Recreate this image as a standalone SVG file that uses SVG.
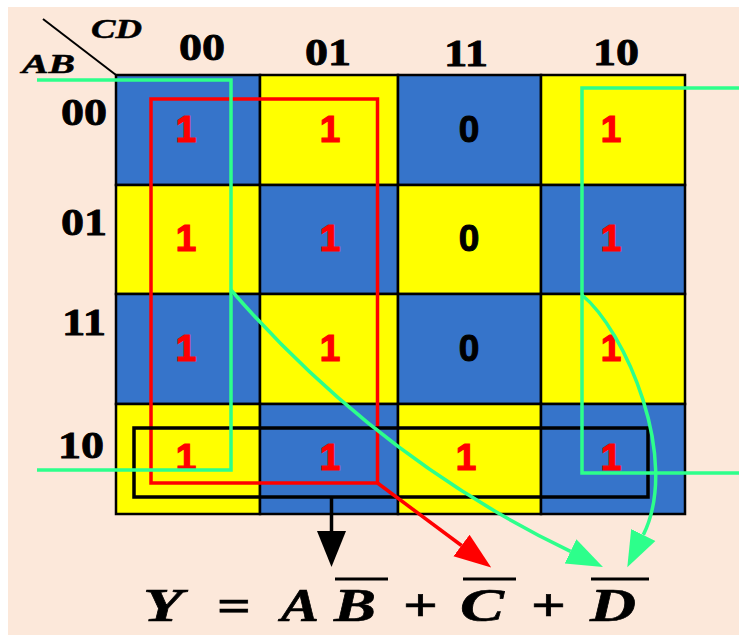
<svg xmlns="http://www.w3.org/2000/svg" width="739" height="635" viewBox="0 0 739 635">
<style>
.bg{fill:#FCE8DA}
.b{fill:#3674CA;stroke:#000;stroke-width:2.5}
.y{fill:#FFFF00;stroke:#000;stroke-width:2.5}
.one{font-family:"Liberation Sans",Arial,sans-serif;font-weight:bold;font-size:37px;fill:#FF0000;stroke:#FF0000;stroke-width:1.2;text-anchor:middle}
.zero{font-family:"Liberation Sans",Arial,sans-serif;font-weight:bold;font-size:37px;fill:#000;stroke:#000;stroke-width:1;text-anchor:middle}
.lbl{font-family:"Liberation Serif","Times New Roman",serif;font-weight:bold;font-size:37px;fill:#000;stroke:#000;stroke-width:0.8;text-anchor:middle}
.var{font-family:"Liberation Serif","Times New Roman",serif;font-weight:bold;font-style:italic;font-size:28px;fill:#000;stroke:#000;stroke-width:0.5}
.eq{font-family:"Liberation Serif","Times New Roman",serif;font-weight:bold;font-style:italic;font-size:47px;fill:#000;stroke:#000;stroke-width:0.6}
.op{font-family:"Liberation Serif","Times New Roman",serif;font-weight:bold;font-size:47px;fill:#000;stroke:#000;stroke-width:0.6}
.grn{fill:none;stroke:#2DFF8B;stroke-width:3.5}
</style>
<defs>
<marker id="ahK" markerUnits="userSpaceOnUse" markerWidth="40" markerHeight="32" viewBox="0 -16 40 32" refX="0" refY="0" orient="auto"><path d="M0,-14.5 L36,0 L0,14.5 z" fill="#000"/></marker>
<marker id="ahR" markerUnits="userSpaceOnUse" markerWidth="40" markerHeight="32" viewBox="0 -16 40 32" refX="0" refY="0" orient="auto"><path d="M0,-13.5 L37,0 L0,13.5 z" fill="#FF0000"/></marker>
<marker id="ahG" markerUnits="userSpaceOnUse" markerWidth="40" markerHeight="32" viewBox="0 -16 40 32" refX="0" refY="0" orient="auto"><path d="M0,-13.5 L36,0 L0,13.5 z" fill="#2DFF8B"/></marker>
</defs>
<rect class="bg" x="8" y="7" width="731" height="628"/>

<g id="header">
<line x1="43" y1="19" x2="116" y2="75" stroke="#000" stroke-width="2"/>
<text class="var" x="91" y="38" textLength="51" lengthAdjust="spacingAndGlyphs">CD</text>
<text class="var" x="22" y="73" textLength="53" lengthAdjust="spacingAndGlyphs">AB</text>
<text class="lbl" x="202" y="60" textLength="46" lengthAdjust="spacingAndGlyphs">00</text>
<text class="lbl" x="328" y="65" textLength="46" lengthAdjust="spacingAndGlyphs">01</text>
<text class="lbl" x="466" y="66" textLength="44" lengthAdjust="spacingAndGlyphs">11</text>
<text class="lbl" x="616" y="65" textLength="46" lengthAdjust="spacingAndGlyphs">10</text>
<text class="lbl" x="84" y="125" textLength="46" lengthAdjust="spacingAndGlyphs">00</text>
<text class="lbl" x="84" y="235" textLength="46" lengthAdjust="spacingAndGlyphs">01</text>
<text class="lbl" x="84" y="335" textLength="44" lengthAdjust="spacingAndGlyphs">11</text>
<text class="lbl" x="81" y="458" textLength="46" lengthAdjust="spacingAndGlyphs">10</text>
</g>

<g id="cells">
<rect class="b" x="116" y="75" width="144" height="110"/>
<rect class="y" x="260" y="75" width="138" height="110"/>
<rect class="b" x="398" y="75" width="143" height="110"/>
<rect class="y" x="541" y="75" width="144" height="110"/>
<rect class="y" x="116" y="185" width="144" height="109"/>
<rect class="b" x="260" y="185" width="138" height="109"/>
<rect class="y" x="398" y="185" width="143" height="109"/>
<rect class="b" x="541" y="185" width="144" height="109"/>
<rect class="b" x="116" y="294" width="144" height="110"/>
<rect class="y" x="260" y="294" width="138" height="110"/>
<rect class="b" x="398" y="294" width="143" height="110"/>
<rect class="y" x="541" y="294" width="144" height="110"/>
<rect class="y" x="116" y="404" width="144" height="110"/>
<rect class="b" x="260" y="404" width="138" height="110"/>
<rect class="y" x="398" y="404" width="143" height="110"/>
<rect class="b" x="541" y="404" width="144" height="110"/>

<text class="one" x="186" y="142">1</text>
<text class="one" x="330" y="142">1</text>
<text class="zero" x="469" y="142">0</text>
<text class="one" x="611" y="142">1</text>
<text class="one" x="186" y="251">1</text>
<text class="one" x="330" y="251">1</text>
<text class="zero" x="469" y="251">0</text>
<text class="one" x="611" y="251">1</text>
<text class="one" x="186" y="361">1</text>
<text class="one" x="330" y="361">1</text>
<text class="zero" x="469" y="361">0</text>
<text class="one" x="611" y="361">1</text>
<text class="one" x="186" y="470">1</text>
<text class="one" x="330" y="470">1</text>
<text class="one" x="466" y="470">1</text>
<text class="one" x="611" y="470">1</text>
</g>

<g id="groups">
<rect id="grp-red" x="151" y="99" width="226.5" height="384" fill="none" stroke="#FF0000" stroke-width="3.5"/>
<rect id="grp-black" x="134" y="428" width="514" height="69" fill="none" stroke="#000" stroke-width="3.5"/>
<path id="grp-green-left" class="grn" d="M37,80 H231 V470 H37"/>
<path id="grp-green-right" class="grn" d="M739,88 H582 V473 H739"/>
</g>

<g id="connectors">
<path d="M331.5,497 V531" fill="none" stroke="#000" stroke-width="3.5" marker-end="url(#ahK)"/>
<path d="M377.5,483 L461.5,545.5" fill="none" stroke="#FF0000" stroke-width="3.5" marker-end="url(#ahR)"/>
<path class="grn" d="M231,290 Q378,459 570.5,551.4" marker-end="url(#ahG)"/>
<path class="grn" d="M582,295 C625,330 681,459 643.3,534.9" marker-end="url(#ahG)"/>
</g>

<g id="formula">
<text class="eq" x="143" y="621" textLength="40" lengthAdjust="spacingAndGlyphs">Y</text>
<text class="op" x="217" y="621" textLength="34" lengthAdjust="spacingAndGlyphs">=</text>
<text class="eq" x="281" y="621" textLength="38" lengthAdjust="spacingAndGlyphs">A</text>
<text class="eq" x="334" y="621" textLength="42" lengthAdjust="spacingAndGlyphs">B</text>
<text class="op" x="403" y="621" textLength="35" lengthAdjust="spacingAndGlyphs">+</text>
<text class="eq" x="460" y="621" textLength="44" lengthAdjust="spacingAndGlyphs">C</text>
<text class="op" x="531" y="621" textLength="35" lengthAdjust="spacingAndGlyphs">+</text>
<text class="eq" x="590" y="621" textLength="46" lengthAdjust="spacingAndGlyphs">D</text>
<line x1="335" y1="579" x2="388" y2="579" stroke="#000" stroke-width="3"/>
<line x1="463" y1="579" x2="516" y2="579" stroke="#000" stroke-width="3"/>
<line x1="591" y1="579" x2="649" y2="579" stroke="#000" stroke-width="3"/>
</g>
</svg>
